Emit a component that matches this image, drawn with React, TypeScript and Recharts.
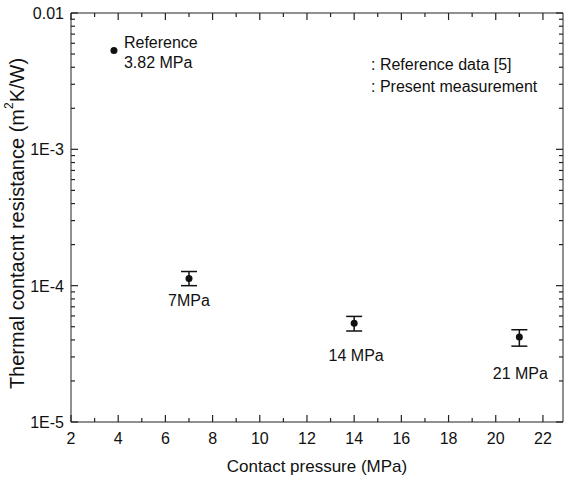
import React from "react";
import { ScatterChart, Scatter, XAxis, YAxis, ErrorBar, Legend } from "recharts";

// reference value (literature)
const refPressure = [3.82];
const refResistance = [0.0053];
const refLabels = [["Reference", "3.82 MPa"]];

// present measurement
const pressure = [7, 14, 21];
const resistance = [1.13e-4, 5.3e-5, 4.2e-5];
const errLow = [1.3e-5, 6.5e-6, 6.0e-6];
const errHigh = [1.4e-5, 6.5e-6, 5.5e-6];
const pointLabels = ["7MPa", "14 MPa", "21 MPa"];

const xTicks = [2, 3, 4, 5, 6, 7, 8, 9, 10, 11, 12, 13, 14, 15, 16, 17, 18, 19, 20, 21, 22];
const xMajor = [2, 4, 6, 8, 10, 12, 14, 16, 18, 20, 22];
const yMajor = [1e-5, 1e-4, 1e-3, 1e-2];
const yMajorLabels = ["1E-5", "1E-4", "1E-3", "0.01"];
const yMinorSteps = [2, 3, 4, 5, 6, 7, 8, 9];

const legendItems = [": Reference data [5]", ": Present measurement"];

const yTicks: number[] = [];
yMajor.forEach((d, i) => {
  yTicks.push(d);
  if (i < yMajor.length - 1) yMinorSteps.forEach((s) => yTicks.push(d * s));
});

const refData = refPressure.map((p, i) => ({ x: p, y: refResistance[i], lines: refLabels[i] }));
const data = pressure.map((p, i) => ({
  x: p,
  y: resistance[i],
  err: [errLow[i], errHigh[i]],
  lines: [pointLabels[i]],
}));

// label offsets relative to the marker
const refLabelPos = [{ dx: 10, dy: -3, anchor: "start" }];
const dataLabelPos = [
  { dx: 0, dy: 28, anchor: "middle" },
  { dx: 2, dy: 38, anchor: "middle" },
  { dx: 1, dy: 42, anchor: "middle" },
];

const FONT = "'Liberation Sans', Arial, sans-serif";
const INK = "#111";
const AXIS = "#222";

const isMajorY = (v: number) => yMajor.some((m) => Math.abs(v / m - 1) < 1e-6);
const yLabel = (v: number) => {
  const i = yMajor.findIndex((m) => Math.abs(v / m - 1) < 1e-6);
  return i >= 0 ? yMajorLabels[i] : "";
};

const tickStyle = { stroke: AXIS, strokeWidth: 1.2 };

const BottomTick = (props: any) => {
  const { x, y, payload } = props;
  const major = xMajor.includes(payload.value);
  return (
    <g>
      <path d={`M${x},${y}V${y - (major ? 7 : 4)}`} {...tickStyle} />
      {major && (
        <text x={x} y={y + 22} textAnchor="middle" fontSize={16} fill={INK} fontFamily={FONT}>
          {payload.value}
        </text>
      )}
    </g>
  );
};

const TopTick = (props: any) => {
  const { x, y, payload } = props;
  const major = xMajor.includes(payload.value);
  return <path d={`M${x},${y}V${y + (major ? 7 : 4)}`} {...tickStyle} />;
};

const LeftTick = (props: any) => {
  const { x, y, payload } = props;
  const major = isMajorY(payload.value);
  return (
    <g>
      <path d={`M${x},${y}H${x + (major ? 7 : 4)}`} {...tickStyle} />
      {major && (
        <text x={x - 7} y={y + 6} textAnchor="end" fontSize={16} fill={INK} fontFamily={FONT}>
          {yLabel(payload.value)}
        </text>
      )}
    </g>
  );
};

const RightTick = (props: any) => {
  const { x, y, payload } = props;
  const major = isMajorY(payload.value);
  return <path d={`M${x},${y}H${x - (major ? 7 : 4)}`} {...tickStyle} />;
};

const makeShape = (pos: { dx: number; dy: number; anchor: string }[]) => (props: any) => {
  const { cx, cy, payload, index } = props;
  const p = pos[index] || pos[0];
  return (
    <g>
      <circle cx={cx} cy={cy} r={3.5} fill={INK} />
      <text x={cx + p.dx} y={cy + p.dy} textAnchor={p.anchor} fontSize={16} fill={INK} fontFamily={FONT}>
        {payload.lines.map((l: string, k: number) => (
          <tspan key={k} x={cx + p.dx} dy={k === 0 ? 0 : 20}>
            {l}
          </tspan>
        ))}
      </text>
    </g>
  );
};

const YTitle = (props: any) => {
  const { viewBox } = props;
  const cx = viewBox.x + 17;
  const cy = viewBox.y + viewBox.height / 2 + 6;
  return (
    <text
      x={cx}
      y={cy}
      transform={`rotate(-90 ${cx} ${cy})`}
      textAnchor="middle"
      dominantBaseline="central"
      fontSize={20}
      fill={INK}
      fontFamily={FONT}
    >
      <tspan>Thermal contacnt resistance (m</tspan>
      <tspan fontSize={12} dy={-8}>2</tspan>
      <tspan dy={8}>K/W)</tspan>
    </text>
  );
};

const XTitle = (props: any) => {
  const { viewBox } = props;
  return (
    <text
      x={viewBox.x + viewBox.width / 2}
      y={viewBox.y + 50}
      textAnchor="middle"
      fontSize={17}
      fill={INK}
      fontFamily={FONT}
    >
      Contact pressure (MPa)
    </text>
  );
};

const LegendBox = () => (
  <div style={{ fontFamily: FONT, fontSize: 16, color: INK, lineHeight: "22px" }}>
    {legendItems.map((t) => (
      <div key={t}>{t}</div>
    ))}
  </div>
);

export default function App() {
  return (
    <div style={{ position: "absolute", left: 0, top: 0, background: "#fff" }}>
      <ScatterChart width={565} height={480} margin={{ top: 12, right: 1, bottom: 0, left: 0 }}>
        <XAxis
          xAxisId="b"
          dataKey="x"
          type="number"
          domain={[2, 22.85]}
          allowDataOverflow
          ticks={xTicks}
          interval={0}
          height={58}
          tickSize={0}
          tickMargin={0}
          tickLine={false}
          tick={<BottomTick />}
          axisLine={{ stroke: AXIS }}
          label={<XTitle />}
        />
        <XAxis
          xAxisId="t"
          orientation="top"
          dataKey="x"
          type="number"
          domain={[2, 22.85]}
          allowDataOverflow
          ticks={xTicks}
          interval={0}
          height={1}
          tickSize={0}
          tickMargin={0}
          tickLine={false}
          tick={<TopTick />}
          axisLine={{ stroke: AXIS }}
        />
        <YAxis
          yAxisId="l"
          dataKey="y"
          type="number"
          scale="log"
          domain={[1e-5, 1e-2]}
          allowDataOverflow
          ticks={yTicks}
          interval={0}
          width={71}
          tickSize={0}
          tickMargin={0}
          tickLine={false}
          tick={<LeftTick />}
          axisLine={{ stroke: AXIS }}
          label={<YTitle />}
        />
        <YAxis
          yAxisId="r"
          orientation="right"
          dataKey="y"
          type="number"
          scale="log"
          domain={[1e-5, 1e-2]}
          allowDataOverflow
          ticks={yTicks}
          interval={0}
          width={1}
          tickSize={0}
          tickMargin={0}
          tickLine={false}
          tick={<RightTick />}
          axisLine={{ stroke: AXIS }}
        />
        <Legend
          layout="vertical"
          align="center"
          verticalAlign="middle"
          content={<LegendBox />}
          wrapperStyle={{ position: "absolute", left: 371, top: 54, width: 190 }}
        />
        <Scatter
          name="Reference data [5]"
          data={refData}
          xAxisId="b"
          yAxisId="l"
          shape={makeShape(refLabelPos)}
          isAnimationActive={false}
        />
        <Scatter
          name="Present measurement"
          data={data}
          xAxisId="b"
          yAxisId="l"
          shape={makeShape(dataLabelPos)}
          isAnimationActive={false}
        >
          <ErrorBar dataKey="err" direction="y" width={8} stroke={INK} strokeWidth={1.5} isAnimationActive={false} />
        </Scatter>
      </ScatterChart>
    </div>
  );
}
